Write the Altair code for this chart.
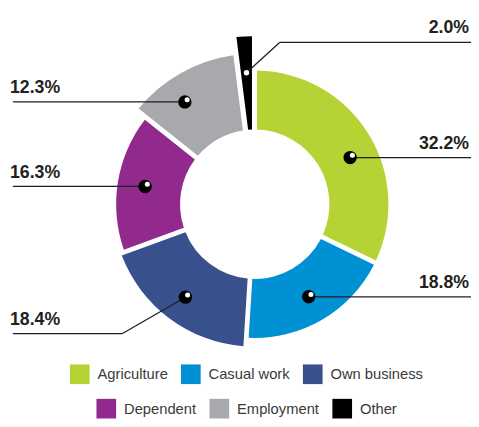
import altair as alt
import pandas as pd

# ---- data ----
categories = ["Agriculture", "Casual work", "Own business", "Dependent", "Employment", "Other"]
shares = [32.2, 18.8, 18.4, 16.3, 12.3, 2.0]

# ---- style ----
colors = ["#b5d334", "#0091d5", "#38508c", "#92298d", "#a7a9ac", "#000000"]
OUTER = {"Agriculture": 136, "Casual work": 136, "Own business": 145,
         "Dependent": 141, "Employment": 153, "Other": 171}
DOT_R = {"Agriculture": 108, "Casual work": 109, "Own business": 118,
         "Dependent": 113, "Employment": 126, "Other": 134}
DOT_DA = {"Agriculture": 6, "Employment": -5}          # degrees nudge of marker
KINK_X = {"Own business": -64, "Other": 34}
KINK_Y = {"Own business": 37, "Other": -31}
INNER = 76
CX, CY = 251, 196
W, H = 471, 416
LEFT_EDGE, RIGHT_EDGE = 5, W
LEFT_TX, RIGHT_TX = 2, W - 2
FONT = "Liberation Sans"
INK = "#231f20"


def case(d, default=0):
    expr = str(default)
    for k, v in reversed(list(d.items())):
        expr = f"(datum.category == '{k}' ? {v} : {expr})"
    return expr


df = pd.DataFrame({"category": categories, "value": shares, "idx": list(range(len(categories)))})

base = (
    alt.Chart(df)
    .transform_window(cum="sum(value)", sort=[alt.SortField("idx")], frame=[None, 0])
    .transform_joinaggregate(total="sum(value)")
    .transform_calculate(t0="2*PI*(datum.cum-datum.value)/datum.total")
    .transform_calculate(t1="2*PI*datum.cum/datum.total")
    .transform_calculate(mid="(datum.t0+datum.t1)/2")
    .transform_calculate(amark="datum.mid + PI/180*" + case(DOT_DA))
    .transform_calculate(outer=case(OUTER))
    .transform_calculate(rdot=case(DOT_R))
    .transform_calculate(kx=case(KINK_X))
    .transform_calculate(ky=case(KINK_Y))
    .transform_calculate(px=f"{CX}+datum.rdot*sin(datum.amark)")
    .transform_calculate(py=f"{CY}-datum.rdot*cos(datum.amark)")
    .transform_calculate(ex="datum.px+datum.kx")
    .transform_calculate(ey="datum.py+datum.ky")
    .transform_calculate(right=f"datum.ex > {CX}")
    .transform_calculate(edge=f"datum.right ? {RIGHT_EDGE} : {LEFT_EDGE}")
    .transform_calculate(tx=f"datum.right ? {RIGHT_TX} : {LEFT_TX}")
    .transform_calculate(ty="datum.ey-9")
    .transform_calculate(lab="format(datum.value, '.1f') + '%'")
)


def arc_layer(cats, cols, lx, ly):
    return (
        base.transform_filter(alt.FieldOneOfPredicate(field="category", oneOf=cats))
        .mark_arc(innerRadius=INNER, padAngle=0.03)
        .encode(
            x=alt.value(CX),
            y=alt.value(CY),
            theta=alt.Theta("t0:Q", scale=None, stack=False),
            theta2=alt.Theta2("t1:Q"),
            radius=alt.Radius("outer:Q", scale=None),
            color=alt.Color(
                "category:N",
                scale=alt.Scale(domain=cats, range=cols),
                legend=alt.Legend(
                    orient="none", legendX=lx, legendY=ly, direction="horizontal",
                    columns=3, title=None, symbolType="square", symbolSize=400,
                    symbolStrokeWidth=0, symbolOpacity=1, labelFont=FONT,
                    labelFontSize=15, labelColor="#3a3a3a", labelOffset=8,
                    columnPadding=13,
                ),
            ),
        )
    )


arcs_a = arc_layer(categories[:3], colors[:3], 63, 359)
arcs_b = arc_layer(categories[3:], colors[3:], 90, 394)

px = alt.X("px:Q", scale=None, axis=None)
py = alt.Y("py:Q", scale=None, axis=None)

seg1 = base.mark_rule(color=INK, strokeWidth=1.3).encode(
    x=px, y=py, x2=alt.X2("ex:Q"), y2=alt.Y2("ey:Q"))
seg2 = base.mark_rule(color=INK, strokeWidth=1.3).encode(
    x=alt.X("ex:Q", scale=None, axis=None), y=alt.Y("ey:Q", scale=None, axis=None),
    x2=alt.X2("edge:Q"), y2=alt.Y2("ey:Q"))

dots = base.transform_filter("datum.category != 'Other'").mark_circle(
    size=185, color="black", opacity=1).encode(x=px, y=py)
shine = base.transform_filter("datum.category != 'Other'").mark_circle(
    size=26, color="white", opacity=1, xOffset=2.3, yOffset=-2.3).encode(x=px, y=py)
dot_other = base.transform_filter("datum.category == 'Other'").mark_circle(
    size=30, color="white", opacity=1).encode(x=px, y=py)

tx = alt.X("tx:Q", scale=None, axis=None)
ty = alt.Y("ty:Q", scale=None, axis=None)
labels_r = base.transform_filter("datum.right").mark_text(
    font=FONT, fontSize=18, fontWeight="bold", color=INK, align="right",
    baseline="alphabetic").encode(x=tx, y=ty, text="lab:N")
labels_l = base.transform_filter("!datum.right").mark_text(
    font=FONT, fontSize=18, fontWeight="bold", color=INK, align="left",
    baseline="alphabetic").encode(x=tx, y=ty, text="lab:N")

chart = (
    alt.layer(arcs_a, arcs_b, seg1, seg2, dots, shine, dot_other, labels_r, labels_l)
    .resolve_scale(color="independent")
    .properties(width=W, height=H, padding=0, autosize="none")
    .configure_view(strokeWidth=0)
)

chart.save("out.html", embed_options={"renderer": "svg", "actions": False})
